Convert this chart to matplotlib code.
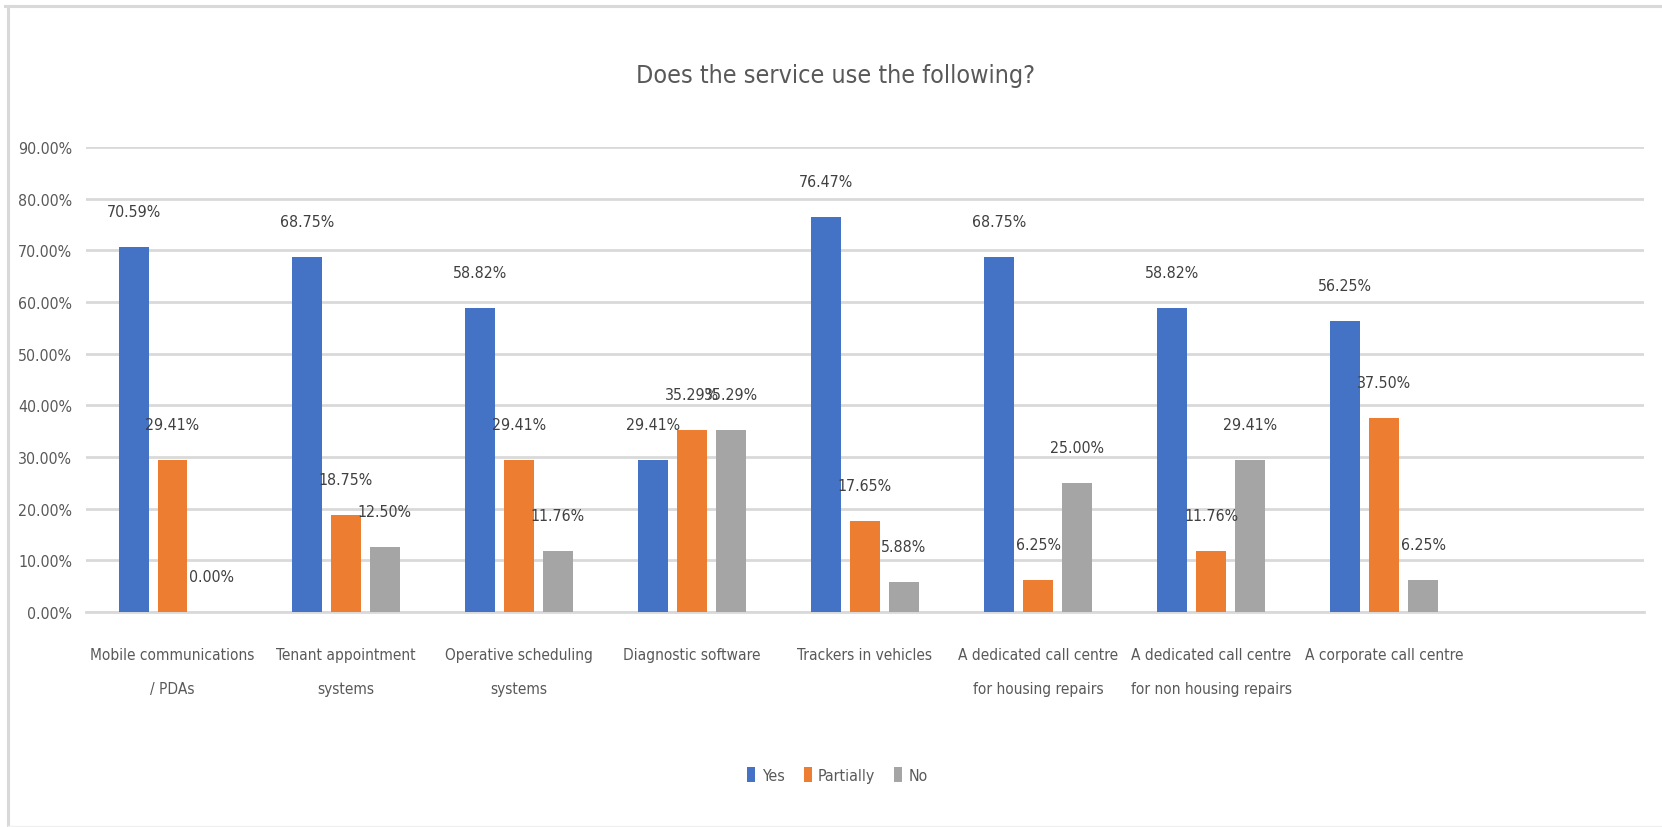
import matplotlib.pyplot as plt
from matplotlib import font_manager
from matplotlib.lines import Line2D
import numpy as np

# pick a narrow font, the chart text is squeezed like Calibri on a squashed image
names = {f.name for f in font_manager.fontManager.ttflist}
stretch = 'normal'
if 'Liberation Sans Narrow' in names:
    FONT, k = 'Liberation Sans Narrow', 1.0
elif any(f.name == 'DejaVu Sans' and 'condensed' in str(f.stretch) for f in font_manager.fontManager.ttflist):
    FONT, k, stretch = 'DejaVu Sans', 0.82, 'condensed'
else:
    FONT, k = 'Liberation Sans', 0.84
plt.rcParams['font.family'] = [FONT, 'DejaVu Sans']
plt.rcParams['font.stretch'] = stretch

categories = ['Mobile communications\n/ PDAs', 'Tenant appointment\nsystems',
              'Operative scheduling\nsystems', 'Diagnostic software',
              'Trackers in vehicles', 'A dedicated call centre\nfor housing repairs',
              'A dedicated call centre\nfor non housing repairs', 'A corporate call centre']
yes = [70.59, 68.75, 58.82, 29.41, 76.47, 68.75, 58.82, 56.25]
partially = [29.41, 18.75, 29.41, 35.29, 17.65, 6.25, 11.76, 37.50]
no = [0.00, 12.50, 11.76, 35.29, 5.88, 25.00, 29.41, 6.25]
series = ['Yes', 'Partially', 'No']
colors = ['#4472C4', '#ED7D31', '#A5A5A5']

W, H = 1662, 828
fig = plt.figure(figsize=(W / 100, H / 100), dpi=100)
fig.patch.set_facecolor('white')
# chart area border: only top and left edges are visible in the crop
fig.lines.append(Line2D([5 / W, 1], [1 - 6.5 / H, 1 - 6.5 / H], transform=fig.transFigure,
                        color='#d9d9d9', linewidth=2.2))
fig.lines.append(Line2D([7.5 / W, 7.5 / W], [0.001, 1 - 6.5 / H], transform=fig.transFigure,
                        color='#d9d9d9', linewidth=2.2))
fig.lines.append(Line2D([7.5 / W, 1], [0.6 / H, 0.6 / H], transform=fig.transFigure,
                        color='#f0f0f0', linewidth=1))
ax = fig.add_axes([0.0517, 0.2597, 0.9375, 0.5616])

x = np.arange(len(categories))
w = 0.173
fs = 14 * k
for i, (name, vals, c) in enumerate(zip(series, [yes, partially, no], colors)):
    bars = ax.bar(x + (i - 1) * 0.225, np.array(vals) / 100, w, color=c, label=name, zorder=3)
    for b, v in zip(bars, vals):
        ax.annotate(f'{v:.2f}%', (b.get_x() + b.get_width() / 2, b.get_height()),
                    xytext=(0, 25.5), textcoords='offset points', ha='center', va='center',
                    fontsize=fs, color='#404040', zorder=4)

ax.set_xlim(-0.5, len(categories) + 0.5)
ax.set_ylim(0, 0.9)
ax.set_yticks(np.arange(0, 0.91, 0.1))
ax.set_yticklabels([f'{t * 100:.2f}%' for t in np.arange(0, 0.91, 0.1)])
ax.set_xticks(x)
ax.set_xticklabels(categories, linespacing=2.6)
ax.tick_params(axis='x', length=0, pad=25, labelsize=13.5 * k, labelcolor='#595959')
ax.tick_params(axis='y', length=0, pad=10, labelsize=fs, labelcolor='#595959')
ax.grid(axis='y', color='#d9d9d9', linewidth=2, zorder=0)
for s in ['top', 'right', 'left']:
    ax.spines[s].set_visible(False)
ax.spines['bottom'].set_color('#d9d9d9')
ax.spines['bottom'].set_linewidth(2)

fig.text(0.503, 0.908, 'Does the service use the following?', ha='center', va='center',
         fontsize=22 * k, color='#595959')
fig.legend(loc='center', bbox_to_anchor=(0.504, 0.063), ncol=3, frameon=False,
           handlelength=0.5, handleheight=1.1, handletextpad=0.4, columnspacing=1.2,
           fontsize=fs, labelcolor='#595959')

fig.savefig('out.png', dpi=100)
